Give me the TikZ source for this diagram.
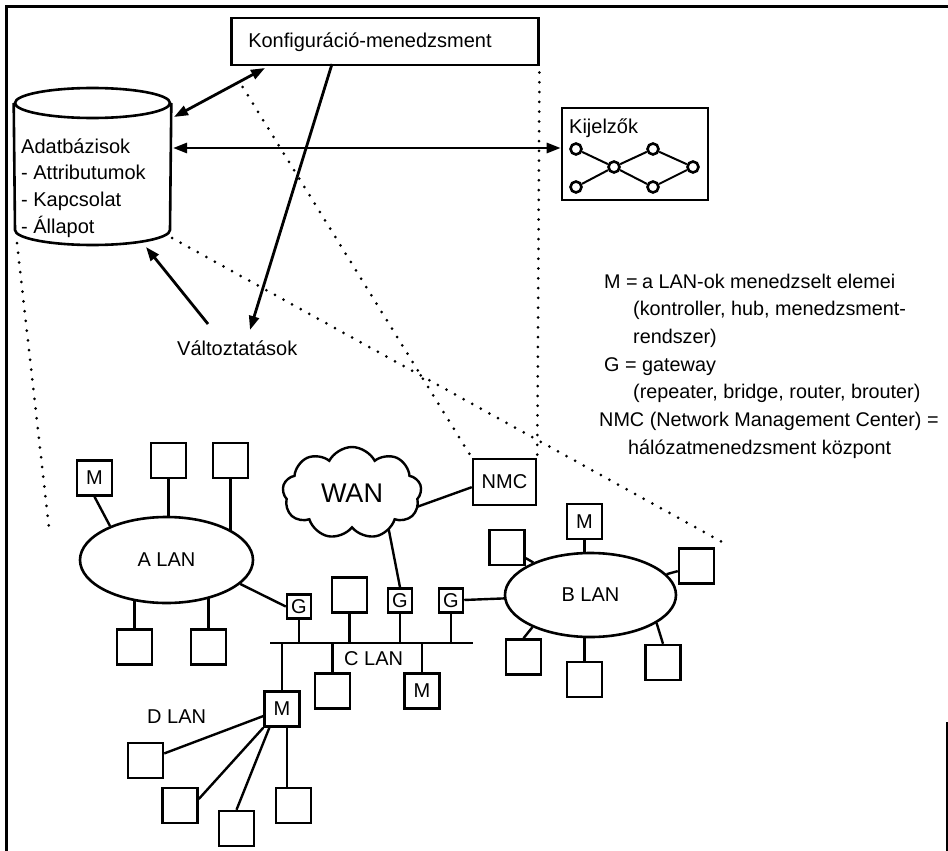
\documentclass[tikz,border=0pt]{standalone}
\usepackage{fontspec}
\setmainfont{Liberation Sans}
\usetikzlibrary{shapes.geometric,shapes.symbols,arrows.meta,calc}
\pgfdeclarelayer{bg}
\pgfsetlayers{bg,main}
\newcommand{\fsz}[1]{\fontsize{#1}{#1}\selectfont}
\begin{document}
\begin{tikzpicture}[x=1pt,y=-1pt,
  box/.style={draw, line width=2.5pt, minimum size=35pt, inner sep=0pt, fill=white, font=\fsz{20}},
  gbox/.style={box, minimum size=24pt},
  lan/.style={ellipse, draw, line width=2.6pt, fill=white, inner sep=0pt, font=\fsz{20}},
  conn/.style={line width=2.4pt},
  arr/.style={line width=2.8pt, -{Triangle[length=14pt,width=10pt]}},
  darr/.style={line width=2.8pt, {Triangle[length=14pt,width=10pt]}-{Triangle[length=14pt,width=10pt]}},
  dotline/.style={line width=3pt, line cap=round, dash pattern=on 0pt off 9.8pt},
  txt/.style={anchor=base west, inner sep=0pt, font=\fsz{20}},
  leg/.style={anchor=base west, inner sep=0pt, font=\fsz{19.8}},
  kdot/.style={circle, draw, line width=2.6pt, fill=white, inner sep=0pt, minimum size=11pt}
]
\useasboundingbox (0,0) rectangle (948,851);
% frame
\draw[line width=3pt] (6,851) -- (6,7) -- (948,7);
\draw[line width=2.6pt] (947,722) -- (947,851);

% database cylinder
\node[ellipse, draw, line width=2.6pt, minimum width=155pt, minimum height=30pt, inner sep=0pt] (dbtop) at (92.5,103) {};
\draw[line width=2.6pt] (dbtop.west) -- (15,230) arc[start angle=180, end angle=0, x radius=77.5, y radius=15] -- (dbtop.east);
\node[txt] (dbt1) at (21,153) {Adatbázisok};
\node[txt] (dbt2) at (21,179.7) {- Attributumok};
\node[txt] (dbt3) at (21,206.4) {- Kapcsolat};
\node[txt] (dbt4) at (21,233) {- Állapot};

% configuration management
\node[draw, line width=2.5pt, anchor=north west, minimum height=47pt, inner xsep=17pt, inner ysep=0pt, text width=273pt, align=left, font=\fsz{20}] (konf) at (230,17) {Konfiguráció-menedzsment};

% displays
\node[draw, line width=2.6pt, minimum width=146pt, minimum height=92pt] (kij) at (635,154) {};
\node[txt] (kijt) at (569,133) {Kijelzők};
\node[kdot] (k1) at (576,149) {};
\node[kdot] (k2) at (576,187) {};
\node[kdot] (k3) at (614,167) {};
\node[kdot] (k4) at (653,149) {};
\node[kdot] (k5) at (653,187) {};
\node[kdot] (k6) at (693,167) {};
\draw[line width=2pt] (k1) -- (k3) (k2) -- (k3) (k3) -- (k4) (k3) -- (k5) (k4) -- (k6) (k5) -- (k6);

% changes
\node[txt] (valt) at (177,355) {Változtatások};

% arrows
\coordinate (konfA) at (265,68);
\coordinate (dbA) at (174,117);
\draw[darr] (konfA) -- (dbA);
\coordinate (dbB) at (173,148);
\draw[darr] (dbB) -- (dbB -| kij.west);
\coordinate (konfB) at (332,64);
\coordinate (valtA) at (250,330);
\draw[arr] (konfB) -- (valtA);
\coordinate (valtB) at (208,324);
\coordinate (dbC) at (146,247);
\draw[arr] (valtB) -- (dbC);

% legend
\node[leg] (l1a) at (604,288) {M =};
\node[leg] (l1b) at (642,288) {a LAN-ok menedzselt elemei};
\node[leg] (l2) at (633,315.7) {(kontroller, hub, menedzsment-};
\node[leg] (l3) at (633,343.4) {rendszer)};
\node[leg] (l4a) at (604,371.1) {G =};
\node[leg] (l4b) at (642,371.1) {gateway};
\node[leg] (l5) at (633,398.8) {(repeater, bridge, router, brouter)};
\node[leg] (l6) at (599,426.5) {NMC (Network Management Center) =};
\node[leg] (l7) at (628,454.2) {hálózatmenedzsment központ};

% network
\node[lan, minimum width=173pt, minimum height=86pt] (alan) at (166.5,560) {A LAN};
\node[lan, minimum width=171pt, minimum height=84pt] (blan) at (590.5,595) {B LAN};
\node[cloud, draw, line width=2.4pt, fill=white, cloud puffs=9, cloud puff arc=125, cloud ignores aspect, minimum width=139pt, minimum height=92pt, inner sep=0pt, font=\fsz{27}] (wan) at (352,493) {WAN};
\node[box, minimum width=63pt, minimum height=46pt] (nmc) at (504.5,482) {NMC};

\node[box] (am) at (94.5,478) {M};
\node[box] (a2) at (168.5,460.5) {};
\node[box] (a3) at (230.5,460.5) {};
\node[box] (a4) at (134.5,647) {};
\node[box] (a5) at (208.5,647) {};
\node[gbox] (g1) at (299,606.5) {G};
\node[box] (c1) at (349.5,595) {};
\node[gbox] (g2) at (400,600.5) {G};
\node[gbox] (g3) at (451,600.5) {G};
\node[box] (c2) at (332.5,691) {};
\node[box] (cm) at (422,691) {M};
\node[box] (dm) at (282,709) {M};
\node[box] (d1) at (145.5,760.5) {};
\node[box] (d2) at (180,805.5) {};
\node[box] (d3) at (236.5,828.5) {};
\node[box] (d4) at (293.5,805.5) {};
\node[box] (bm) at (584.5,521.5) {M};
\node[box] (btl) at (507,547.5) {};
\node[box] (btr) at (696.5,566) {};
\node[box] (bbr) at (663,662.5) {};
\node[box] (bbl) at (523.5,657) {};
\node[box] (bbm) at (584.5,679.5) {};
\node[txt] (clan) at (344,665) {C LAN};
\node[txt] (dlan) at (147,723) {D LAN};

\coordinate (busL) at (270,643);
\coordinate (busR) at (473,643);
\coordinate (wanIn) at (383,500);
\coordinate (wanIn2) at (400,513);

\begin{pgfonlayer}{bg}
\draw[conn] (am.south) -- (alan.149);
\draw[conn] (a2) -- (a2 |- alan.center);
\draw[conn] (a3) -- (a3 |- alan.center);
\draw[conn] (a4) -- (a4 |- alan.center);
\draw[conn] (a5) -- (a5 |- alan.center);
\draw[conn] (alan.-18) -- (g1.west);
\draw[conn] (g1) -- (g1 |- busL);
\draw[conn] (c1) -- (c1 |- busL);
\draw[conn] (g2) -- (g2 |- busL);
\draw[conn] (g3) -- (g3 |- busL);
\draw[conn] (busL) -- (busR);
\draw[conn] (dm) -- (dm |- busL);
\draw[conn] (c2) -- (c2 |- busL);
\draw[conn] (cm) -- (cm |- busL);
\draw[conn] (g3) -- (blan);
\draw[conn] (g2.north) -- (wanIn);
\draw[conn] (nmc.189) -- (wanIn2);
\draw[conn] (bm) -- (bm |- blan.center);
\draw[conn] (btl) -- (blan);
\draw[conn] (btr) -- (blan);
\draw[conn] (bbr.north) -- (blan.-23.5);
\draw[conn] (bbl.north) -- (blan.209.4);
\draw[conn] (bbm) -- (bbm |- blan.center);
\draw[conn] (d1) -- (dm);
\draw[conn] (d2.19) -- (dm.south west);
\draw[conn] (d3.north) -- (dm.236);
\draw[conn] ([xshift=-6.5pt]d4.north) -- ([xshift=-6.5pt]d4.north |- dm.south);
\end{pgfonlayer}

% zoom (dotted) lines
\coordinate (dbBR) at (172,238);
\coordinate (dotE) at (722,542);
\coordinate (dbBL) at (17,243);
\coordinate (dotW) at (49,528);
\draw[dotline, shorten <=24pt] (konf.south west) -- (nmc.north west);
\draw[dotline, shorten <=6pt] (konf.south east) -- (nmc.north east);
\draw[dotline] (dbBR) -- (dotE);
\draw[dotline] (dbBL) -- (dotW);
\end{tikzpicture}
\end{document}
